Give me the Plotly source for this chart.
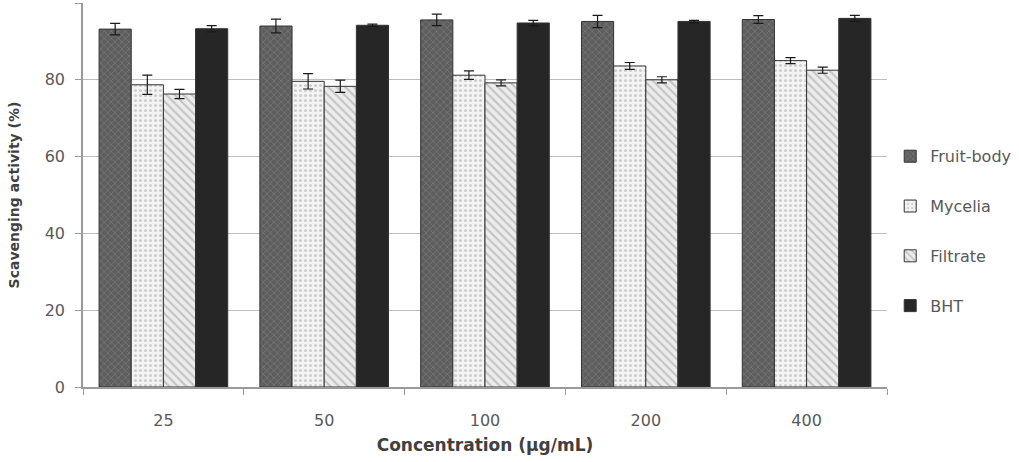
import plotly.graph_objects as go

categories = ["25", "50", "100", "200", "400"]
fruit_body = [93.2, 94.0, 95.6, 95.2, 95.7]
fruit_body_err = [1.5, 1.8, 1.5, 1.6, 1.0]
mycelia = [78.7, 79.6, 81.2, 83.6, 85.0]
mycelia_err = [2.5, 2.0, 1.1, 0.9, 0.8]
filtrate = [76.3, 78.3, 79.2, 80.0, 82.5]
filtrate_err = [1.2, 1.6, 0.8, 0.8, 0.8]
bht = [93.3, 94.2, 94.8, 95.2, 96.0]
bht_err = [0.8, 0.3, 0.7, 0.3, 0.8]

series = [
    ("Fruit-body", fruit_body, fruit_body_err, dict(shape="x", bgcolor="#5e5e5e", fgcolor="#8c8c8c", size=5, solidity=0.3)),
    ("Mycelia", mycelia, mycelia_err, dict(shape=".", bgcolor="#f4f4f4", fgcolor="#a8a8a8", size=5, solidity=0.3)),
    ("Filtrate", filtrate, filtrate_err, dict(shape="\\", bgcolor="#ececec", fgcolor="#9a9a9a", size=6, solidity=0.35)),
    ("BHT", bht, bht_err, None),
]

FONT = "DejaVu Sans, Verdana, sans-serif"

fig = go.Figure()
for i, (name, vals, errs, pat) in enumerate(series):
    kw = dict(marker_color="#262626") if pat is None else dict(marker_color=pat["bgcolor"], marker_pattern=pat)
    fig.add_trace(go.Bar(
        name=name, x=categories, y=vals,
        error_y=dict(type="data", array=errs, color="#1a1a1a", thickness=1.2, width=5),
        marker_line=dict(color="#333333", width=1),
        legendgroup=f"g{i}",
        **kw,
    ))

fig.update_layout(
    width=1019, height=462,
    margin=dict(l=83, r=132, t=3, b=75),
    paper_bgcolor="white", plot_bgcolor="white",
    barmode="group", bargap=0.2, bargroupgap=0,
    font=dict(family=FONT, color="#595959", size=15),
    legend=dict(x=1.004, y=0.645, xanchor="left", yanchor="top",
                font=dict(size=16, color="#595959", family=FONT),
                tracegroupgap=26, traceorder="grouped",
                itemwidth=30),
    showlegend=True,
)
fig.update_xaxes(
    type="category", showline=True, linecolor="#9a9a9a", linewidth=1.5,
    ticks="outside", tickson="boundaries", ticklen=6, tickcolor="#9a9a9a",
    tickfont=dict(size=16, color="#595959", family=FONT),
    ticklabelstandoff=18,
    title=dict(text="<b>Concentration (µg/mL)</b>", font=dict(size=17, color="#404040", family=FONT), standoff=10),
    showgrid=False,
)
fig.update_yaxes(
    range=[0, 100], dtick=20, showline=True, linecolor="#9a9a9a", linewidth=1.5,
    ticks="outside", ticklen=6, tickcolor="#9a9a9a",
    tickfont=dict(size=16, color="#595959", family=FONT),
    ticklabelstandoff=7,
    showgrid=True, gridcolor="#bdbdbd", gridwidth=1.2,
    title=dict(text="<b>Scavenging activity (%)</b>", font=dict(size=14, color="#404040", family=FONT), standoff=22),
    zeroline=False,
)

fig.write_html("out.html")
